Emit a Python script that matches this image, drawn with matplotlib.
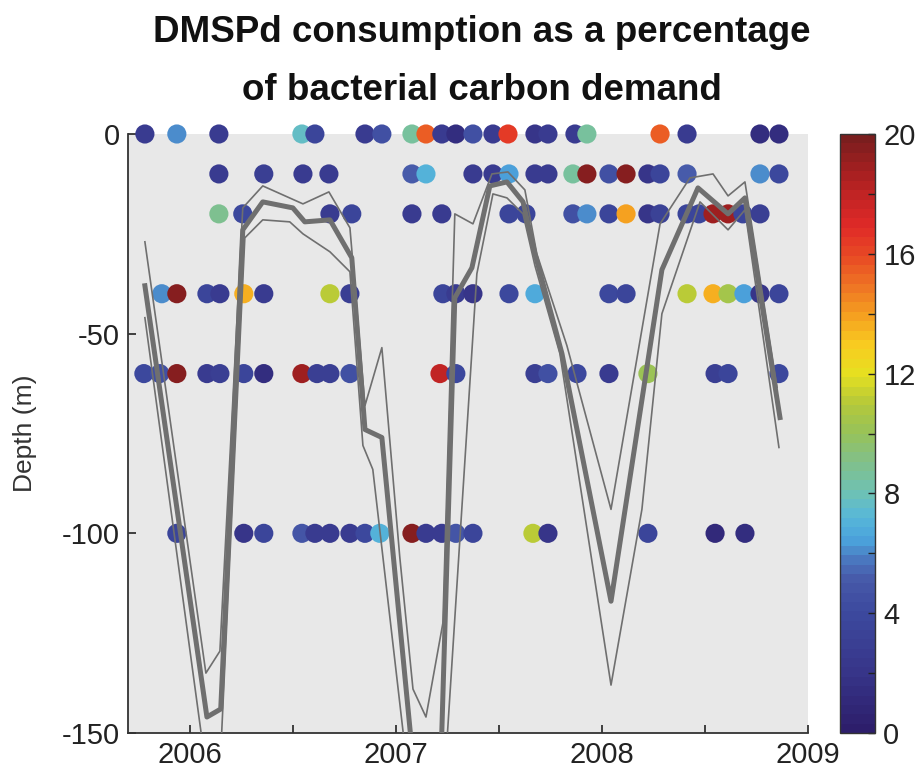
import matplotlib
matplotlib.use("Agg")
import matplotlib.pyplot as plt
import numpy as np
from matplotlib.colors import LinearSegmentedColormap
from matplotlib.ticker import MultipleLocator

plt.rcParams['font.family'] = ['Liberation Sans', 'DejaVu Sans']
plt.rcParams['axes.unicode_minus'] = False

# sample dates (decimal year) and DMSPd consumption (% of BCD), one set per depth
t_0m = [2005.782, 2005.937, 2006.141, 2006.544, 2006.607, 2006.850, 2006.932, 2007.078, 2007.146,
        2007.223, 2007.291, 2007.374, 2007.471, 2007.544, 2007.675, 2007.738, 2007.869, 2007.927,
        2008.282, 2008.413, 2008.767, 2008.859]
v_0m = [2.5, 6.0, 2.5, 7.5, 3.5, 2.5, 4.5, 8.5, 15.5, 2.5, 1.5, 4.5, 2.5, 16.5, 2.0, 2.5, 2.5, 8.5,
        15.5, 2.5, 1.5, 1.5]

t_10m = [2006.141, 2006.359, 2006.549, 2006.675, 2007.078, 2007.146, 2007.374, 2007.471, 2007.549,
         2007.675, 2007.738, 2007.859, 2007.927, 2008.034, 2008.117, 2008.223, 2008.282, 2008.413,
         2008.767, 2008.859]
v_10m = [2.5, 3.0, 2.5, 2.5, 5.0, 7.0, 2.5, 2.5, 6.5, 2.5, 2.5, 8.5, 19.5, 4.5, 19.5, 2.0, 3.5, 5.0,
         6.2, 4.0]

t_20m = [2006.141, 2006.257, 2006.680, 2006.786, 2007.078, 2007.223, 2007.549, 2007.631, 2007.859,
         2007.927, 2008.034, 2008.117, 2008.223, 2008.282, 2008.413, 2008.471, 2008.539, 2008.612,
         2008.684, 2008.767]
v_20m = [9.0, 4.0, 2.5, 3.5, 2.5, 2.5, 3.5, 3.5, 4.5, 6.2, 3.5, 14.0, 2.0, 3.2, 3.5, 3.5, 19.0, 19.0,
         3.5, 3.0]

t_40m = [2005.864, 2005.937, 2006.083, 2006.146, 2006.262, 2006.359, 2006.680, 2006.777, 2007.228,
         2007.291, 2007.374, 2007.549, 2007.675, 2008.034, 2008.117, 2008.413, 2008.539, 2008.612,
         2008.689, 2008.767, 2008.859]
v_40m = [6.0, 19.5, 3.5, 2.5, 13.5, 2.5, 11.0, 3.0, 3.5, 2.5, 2.0, 4.0, 6.8, 4.0, 3.5, 11.0, 13.5,
         10.5, 6.3, 2.0, 3.5]

t_60m = [2005.777, 2005.854, 2005.937, 2006.083, 2006.146, 2006.262, 2006.359, 2006.544, 2006.617,
         2006.680, 2006.777, 2007.214, 2007.291, 2007.675, 2007.738, 2007.879, 2008.034, 2008.223,
         2008.549, 2008.612, 2008.859]
v_60m = [4.0, 4.5, 19.5, 2.5, 3.0, 3.5, 1.5, 19.0, 3.0, 3.0, 4.5, 18.0, 4.0, 3.0, 4.5, 4.0, 2.5, 10.0,
         3.0, 3.5, 4.0]

t_100m = [2005.937, 2006.262, 2006.359, 2006.544, 2006.607, 2006.680, 2006.777, 2006.850, 2006.922,
          2007.078, 2007.146, 2007.223, 2007.291, 2007.374, 2007.665, 2007.738, 2008.223, 2008.549,
          2008.694]
v_100m = [3.5, 2.0, 3.5, 4.8, 2.5, 2.5, 2.5, 4.0, 7.0, 19.5, 2.5, 2.5, 4.8, 3.5, 11.0, 2.0, 3.5, 1.0,
          1.5]

depths = [0, -10, -20, -40, -60, -100]
times = [t_0m, t_10m, t_20m, t_40m, t_60m, t_100m]
vals = [v_0m, v_10m, v_20m, v_40m, v_60m, v_100m]

# mixed layer depth: thick = mean, thin = upper / lower estimates
mld_t = [2005.782, 2006.083, 2006.150, 2006.257, 2006.354, 2006.500, 2006.558, 2006.680, 2006.786,
         2006.850, 2006.932, 2007.117, 2007.214, 2007.286, 2007.369, 2007.456, 2007.539, 2007.617,
         2007.675, 2007.806, 2008.044, 2008.291, 2008.466, 2008.612, 2008.694, 2008.864]
mld = [-38, -146, -144, -24, -17, -18.5, -22, -21.5, -31, -74, -76, -175, -165, -41, -33.5, -13, -12,
       -17, -30, -55, -117, -34, -13.5, -20, -16, -71]

up_t = [2005.782, 2006.078, 2006.146, 2006.257, 2006.354, 2006.549, 2006.675, 2006.777, 2006.850,
        2006.932, 2007.019, 2007.083, 2007.146, 2007.228, 2007.286, 2007.374, 2007.466, 2007.544,
        2007.626, 2007.684, 2007.830, 2008.044, 2008.282, 2008.427, 2008.539, 2008.612, 2008.694,
        2008.850]
up = [-27, -135, -129.5, -18.5, -13, -17.5, -14.5, -23.5, -68, -53.5, -106, -139, -146, -122.5, -20,
      -22.5, -10, -9.5, -14, -30, -53, -94, -22.5, -11, -10, -15.5, -12, -63.5]

lo_t = [2005.782, 2006.068, 2006.150, 2006.267, 2006.354, 2006.485, 2006.549, 2006.680, 2006.777,
        2006.840, 2006.888, 2007.058, 2007.238, 2007.393, 2007.471, 2007.539, 2007.617, 2007.675,
        2007.796, 2008.044, 2008.194, 2008.291, 2008.476, 2008.612, 2008.694, 2008.859]
lo = [-46, -155, -155, -26, -21.5, -22, -25, -29.5, -34.5, -78, -84, -160, -160, -35, -15, -16, -20,
      -33, -55, -138, -94, -45, -17, -24, -19, -78.5]

cmap = LinearSegmentedColormap.from_list("dmsp", [
    (0.00, "#2d1e6b"), (0.10, "#37368a"), (0.20, "#3d4a9f"), (0.25, "#4658a8"),
    (0.28, "#4a70ba"), (0.32, "#4ba3dc"), (0.36, "#58b8d8"), (0.40, "#6ec2b4"),
    (0.45, "#80c08c"), (0.50, "#96c25a"), (0.55, "#b4c83a"), (0.60, "#e6e020"),
    (0.65, "#f8cc20"), (0.70, "#f5a020"), (0.75, "#ef7424"), (0.80, "#e84a24"),
    (0.85, "#e02a28"), (0.90, "#c42424"), (0.95, "#a01f20"), (1.00, "#7a1e1e")], N=64)

fig = plt.figure(figsize=(9.19, 7.70), dpi=100)
ax = fig.add_axes([128/919, 37/770, 680/919, 599/770])
ax.set_facecolor("#e8e8e8")

for d, t, v in zip(depths, times, vals):
    sc = ax.scatter(t, [d]*len(t), c=v, cmap=cmap, vmin=0, vmax=20, s=190,
                    linewidths=0, clip_on=False, zorder=2)

gray = "#6f6f6f"
ax.plot(up_t, up, color=gray, lw=1.2, zorder=3)
ax.plot(lo_t, lo, color=gray, lw=1.2, zorder=3)
ax.plot(mld_t, mld, color=gray, lw=3.6, zorder=3)

ax.set_xlim(2005.70, 2009.0)
ax.set_ylim(-150, 0)
ax.set_xticks([2006, 2007, 2008, 2009])
ax.set_xticklabels(["2006", "2007", "2008", "2009"])
ax.xaxis.set_minor_locator(MultipleLocator(0.5))
ax.set_yticks([0, -50, -100, -150])
ax.tick_params(axis="both", which="both", direction="in", length=6, width=1.2,
               labelsize=21, colors="#222222", pad=6)
ax.tick_params(axis="x", which="minor", length=6)
for s in ["top", "right"]:
    ax.spines[s].set_visible(False)
for s in ["left", "bottom"]:
    ax.spines[s].set_color("#333333")
    ax.spines[s].set_linewidth(1.3)
ax.set_ylabel("Depth (m)", fontsize=19, color="#333333", labelpad=18)

cax = fig.add_axes([840/919, 37/770, 35/919, 599/770])
cb = fig.colorbar(sc, cax=cax)
cb.set_ticks([0, 4, 8, 12, 16, 20])
cb.ax.yaxis.set_minor_locator(MultipleLocator(2))
cb.ax.tick_params(which="both", direction="in", length=5, width=1, labelsize=21,
                  colors="#222222", pad=6)
cb.outline.set_linewidth(1)
cb.outline.set_edgecolor("#333333")

fig.text(482/919, 1 - 32/770, "DMSPd consumption as a percentage", ha="center", va="center",
         fontsize=26.5, fontweight="bold", color="#111111")
fig.text(482/919, 1 - 90/770, "of bacterial carbon demand", ha="center", va="center",
         fontsize=26.5, fontweight="bold", color="#111111")

fig.savefig("out.png", dpi=100)
